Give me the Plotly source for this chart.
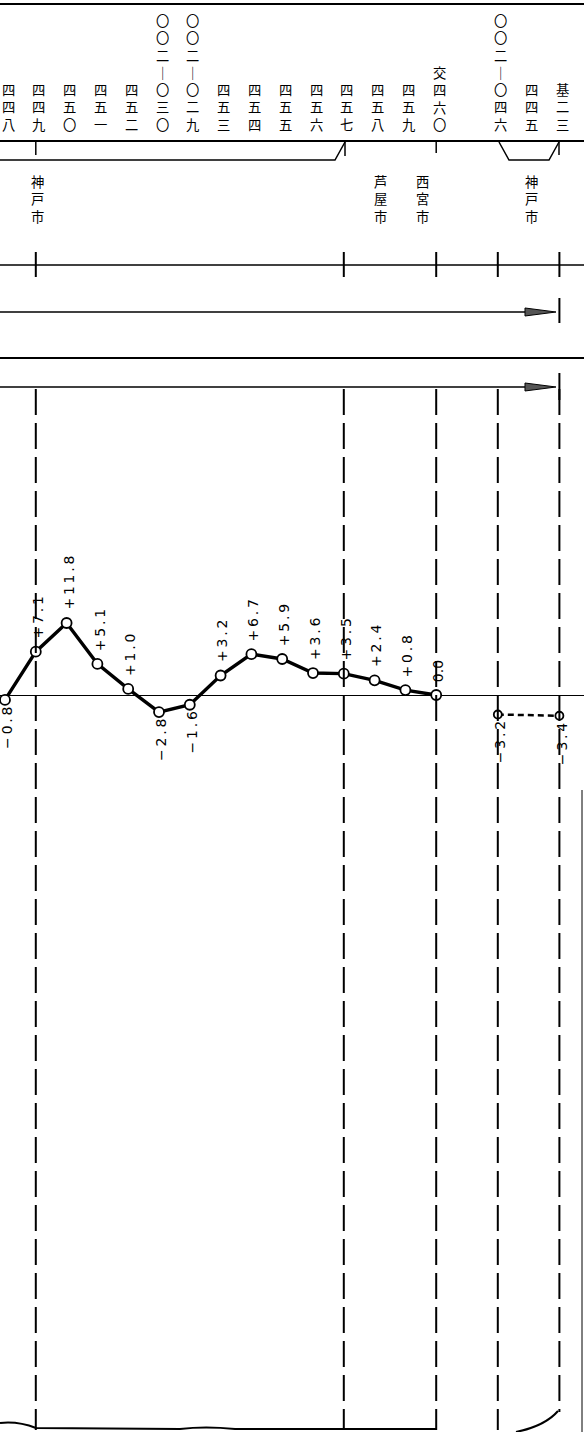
import plotly.graph_objects as go

# ---------------- data ----------------
col_pos = [0, 1, 2, 3, 4, 5, 6, 7, 8, 9, 10, 11, 12, 13, 14, 16, 17, 18]
col_labels = ["四四八", "四四九", "四五〇", "四五一", "四五二",
              "〇〇二｜〇三〇", "〇〇二｜〇二九", "四五三", "四五四", "四五五",
              "四五六", "四五七", "四五八", "四五九", "交四六〇",
              "〇〇二｜〇四六", "四四五", "基二三"]

main_x = [0, 1, 2, 3, 4, 5, 6, 7, 8, 9, 10, 11, 12, 13, 14]
main_vals = [-0.8, 7.1, 11.8, 5.1, 1.0, -2.8, -1.6, 3.2, 6.7, 5.9, 3.6, 3.5, 2.4, 0.8, 0.0]

sub_x = [16, 18]
sub_vals = [-3.2, -3.4]

boundary_cols = [1, 11, 14, 16, 18]
city_names = ["神戸市", "芦屋市", "西宮市", "神戸市"]
city_cols = [1.07, 12.2, 13.55, 17.1]

# ---------------- layout scale ----------------
W, H = 584, 1432
X0_PX, DX_PX = 5.0, 30.8      # pixel of column 0, pixels per column
Y0_PX, DY_PX = 695.0, 6.1     # pixel of zero line, pixels per unit
xrange = [(0 - X0_PX) / DX_PX, (W - X0_PX) / DX_PX]
yrange = [(Y0_PX - H) / DY_PX, Y0_PX / DY_PX]


def px(x):
    return x / W


def py(y):
    return 1 - y / H


shapes = []


def line(x0, y0, x1, y1, w=1.5, dash=None, xref="paper", color="black"):
    shapes.append(dict(type="line", xref=xref, yref="paper",
                       x0=x0 if xref != "paper" else px(x0),
                       x1=x1 if xref != "paper" else px(x1),
                       y0=py(y0), y1=py(y1),
                       line=dict(color=color, width=w, dash=dash)))


def path(pts, w=1.5, fill=None, close=False):
    d = "M " + " L ".join(f"{px(x):.5f},{py(y):.5f}" for x, y in pts)
    if close:
        d += " Z"
    shapes.append(dict(type="path", xref="paper", yref="paper", path=d,
                       line=dict(color="black", width=w),
                       fillcolor=fill if fill else "rgba(0,0,0,0)"))


# header rules
line(0, 4, W, 4, w=2)
line(0, 141, W, 141, w=2)
path([(0, 160), (335, 160), (345, 142)], w=1.5)
line(345, 142, 345, 156, w=1.5)
line(boundary_cols[0], 141, boundary_cols[0], 155, w=1.5, xref="x")
line(boundary_cols[2], 141, boundary_cols[2], 153, w=1.5, xref="x")
path([(499, 142), (509, 160), (549, 160), (559, 142)], w=1.5)
line(559, 141, 559, 155, w=1.5)

# section line with ticks
line(0, 265, W, 265, w=1.5)
for c in boundary_cols:
    line(c, 252, c, 277, w=2, xref="x")

# arrows
for ya, yb0, yb1 in [(312, 298, 323), (387, 373, 400)]:
    line(0, ya, 530, ya, w=1.5)
    path([(525, ya - 4), (556, ya), (525, ya + 4)], w=1, fill="#555555", close=True)
    line(boundary_cols[-1], yb0, boundary_cols[-1], yb1, w=2, xref="x")
line(0, 358, W, 358, w=2)

# dashed boundaries
for c in boundary_cols:
    bottom = 1412 if c == boundary_cols[-1] else 1430
    line(c, 389, c, bottom, w=2, dash="26px,8px", xref="x")

# bottom edges
shapes.append(dict(type="path", xref="paper", yref="paper",
                   path=f"M {px(0)},{py(1423)} Q {px(18)},{py(1421)} {px(36)},{py(1428)} "
                        f"L {px(180)},{py(1429)} Q {px(205)},{py(1426)} {px(235)},{py(1429)} L {px(436)},{py(1429)}",
                   line=dict(color="black", width=2)))
shapes.append(dict(type="path", xref="paper", yref="paper",
                   path=f"M {px(516)},{py(1432)} Q {px(545)},{py(1426)} {px(558)},{py(1411)}",
                   line=dict(color="black", width=2)))
line(582, 790, 582, H, w=1)

# ---------------- traces ----------------
fig = go.Figure()
fig.add_trace(go.Scatter(
    x=main_x, y=main_vals, mode="lines+markers",
    line=dict(color="black", width=3.4),
    marker=dict(symbol="circle", size=10, color="white",
                line=dict(color="black", width=1.8)),
    hoverinfo="skip", showlegend=False))
fig.add_trace(go.Scatter(
    x=sub_x, y=sub_vals, mode="lines+markers",
    line=dict(color="black", width=2.5, dash="6px,4px"),
    marker=dict(symbol="circle", size=8, color="white",
                line=dict(color="black", width=1.8)),
    hoverinfo="skip", showlegend=False))

annotations = []
CJK = "Noto Sans CJK JP"

# column labels (vertical writing), bottoms on the rule at y=141
for c, lab in zip(col_pos, col_labels):
    annotations.append(dict(
        x=c, xref="x", y=py(135), yref="paper", xanchor="center", yanchor="bottom",
        xshift=3, text="<br>".join(lab), showarrow=False, borderpad=0,
        font=dict(family=CJK, size=13.3, color="black")))

# city labels
for c, name in zip(city_cols, city_names):
    annotations.append(dict(
        x=c, xref="x", y=py(199), yref="paper", xanchor="center", yanchor="middle",
        text="<br>".join(name), showarrow=False, borderpad=0,
        font=dict(family=CJK, size=13.3, color="black")))


def fmt(v):
    if v == 0:
        return "0.0"
    sign = "+" if v > 0 else "−"
    return sign + "\u2009" + "\u2009".join(f"{abs(v):.1f}")


for xs, vs in [(main_x, main_vals), (sub_x, sub_vals)]:
    for x, v in zip(xs, vs):
        pos = v >= 0
        annotations.append(dict(
            x=x, y=v, xref="x", yref="y", showarrow=False, textangle=-90,
            xanchor="center", yanchor="bottom" if pos else "top",
            yshift=11 if pos else -5, xshift=2,
            text=fmt(v), font=dict(family="DejaVu Sans", size=14, color="black")))

fig.update_layout(
    width=W, height=H, margin=dict(l=0, r=0, t=0, b=0),
    paper_bgcolor="white", plot_bgcolor="white",
    xaxis=dict(range=xrange, visible=False, fixedrange=True),
    yaxis=dict(range=yrange, showgrid=False, showticklabels=False, ticks="",
               showline=False, zeroline=True, zerolinecolor="black",
               zerolinewidth=1.2, fixedrange=True),
    shapes=shapes, annotations=annotations, showlegend=False)

fig.write_html("out.html", config={"displayModeBar": False},
               post_script="document.body.style.margin='0';document.body.style.overflow='hidden';")
